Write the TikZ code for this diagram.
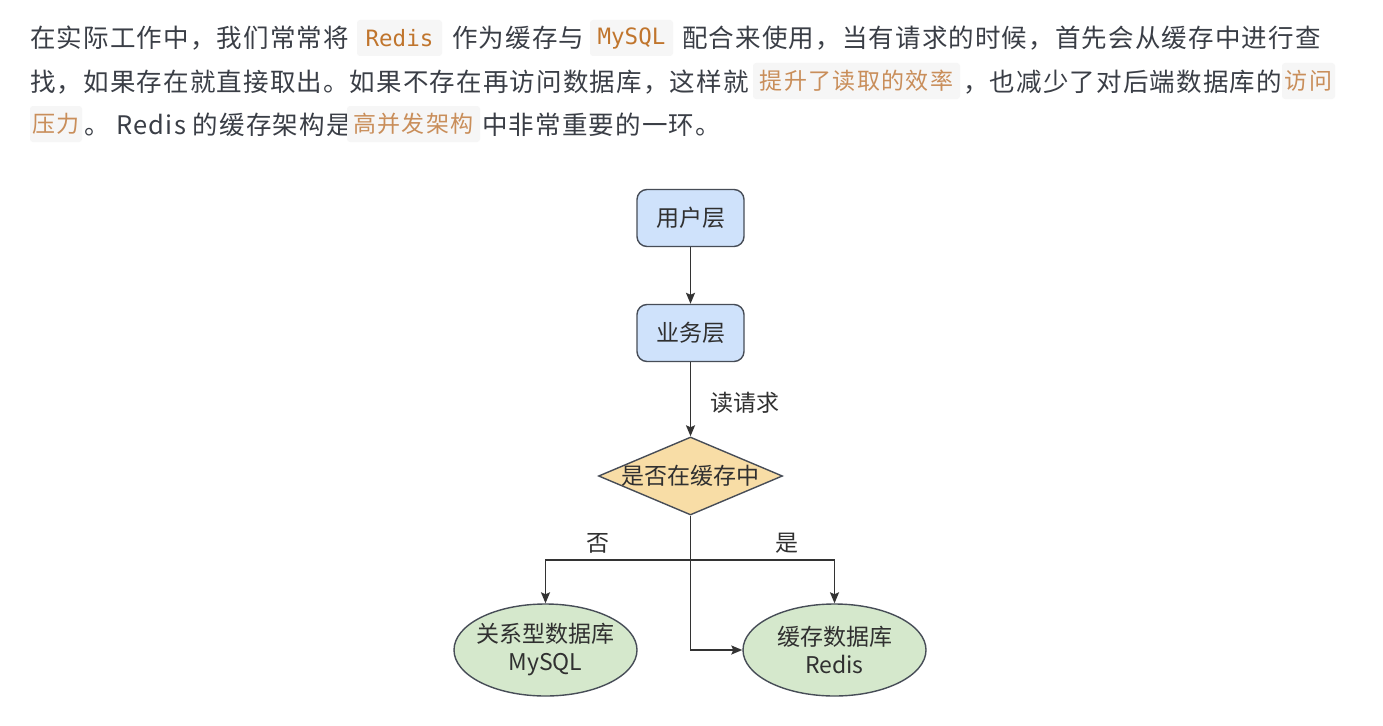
\documentclass[tikz,border=0pt]{standalone}
\usepackage{fontspec}
\setmainfont{Noto Sans CJK SC}
\newfontfamily\bodyf[LetterSpace=4.5]{Noto Sans CJK SC}
\newfontfamily\hlf[LetterSpace=6]{Noto Sans CJK SC}
\newfontfamily\codef{DejaVu Sans Mono}
\newfontfamily\diagf{Noto Sans CJK SC}
\usetikzlibrary{shapes.geometric,arrows.meta}
\definecolor{bodyc}{HTML}{3A3E46}
\definecolor{hlbg}{HTML}{F6F6F6}
\definecolor{hlc}{HTML}{C98E5A}
\definecolor{codec}{HTML}{C0752D}
\definecolor{bluef}{HTML}{CFE2FB}
\definecolor{orf}{HTML}{F8DDA6}
\definecolor{grf}{HTML}{D5E8CC}
\definecolor{bordc}{HTML}{474D57}
\definecolor{lnc}{HTML}{333333}
\definecolor{dtxt}{HTML}{303030}
\begin{document}
\begin{tikzpicture}[x=1pt,y=-1pt,
  txt/.style={anchor=base west, inner sep=0pt, text=bodyc, font=\bodyf\fontsize{25.5}{28}\selectfont},
  hl/.style={fill=hlbg, rounded corners=3pt, inner sep=0pt, text=hlc, font=\hlf\fontsize{23}{26}\selectfont, minimum height=36pt},
  code/.style={hl, text=codec, font=\codef\fontsize{22.5}{26}\selectfont},
  dnode/.style={draw=bordc, line width=1.4pt, text=dtxt, font=\diagf\fontsize{23}{28}\selectfont, align=center},
  layerbox/.style={dnode, fill=bluef, rounded corners=10pt, minimum width=107pt, minimum height=57pt},
  decide/.style={dnode, diamond, fill=orf, aspect=2.36, inner xsep=-5pt, inner ysep=-3pt, minimum width=184pt, minimum height=78pt},
  dbnode/.style={dnode, ellipse, fill=grf, inner xsep=-6pt, inner ysep=0pt, minimum width=183pt, minimum height=92pt},
  conn/.style={draw=lnc, line width=1.6pt},
  arr/.style={conn, -{Stealth[length=11pt,width=9pt,inset=2pt]}},
  lbl/.style={text=dtxt, font=\diagf\fontsize{23}{28}\selectfont, inner sep=0pt}
]
\useasboundingbox[fill=white] (0,0) rectangle (1383,725);

% paragraph, line 1
\node[txt] (t1a) at (30,48) {在实际工作中，我们常常将};
\node[code, minimum width=85pt] (c1) at (399.5,38) {Redis};
\node[txt] (t1b) at (452,48) {作为缓存与};
\node[code, minimum width=83pt] (c2) at (631.5,38) {MySQL};
\node[txt] (t1c) at (682,48) {配合来使用，当有请求的时候，首先会从缓存中进行查};
% line 2
\node[txt] (t2a) at (30,91) {找，如果存在就直接取出。如果不存在再访问数据库，这样就};
\node[hl, minimum width=207pt] (h1) at (856.5,81) {提升了读取的效率};
\node[txt] (t2b) at (963,91) {，也减少了对后端数据库的};
\node[hl, minimum width=53pt] (h2) at (1308.5,81) {访问};
% line 3
\node[hl, minimum width=52pt] (h3) at (56,124) {压力};
\node[txt] (t3a) at (84,134) {。 Redis 的缓存架构是};
\node[hl, minimum width=133pt] (h4) at (413.5,124) {高并发架构};
\node[txt] (t3b) at (482,134) {中非常重要的一环。};

% diagram
\node[layerbox] (u) at (690.5,218) {用户层};
\node[layerbox] (b) at (690.5,333) {业务层};
\node[decide] (d) at (690.5,476) {是否在缓存中};
\node[dbnode] (m) at (545.5,650) {关系型数据库\\MySQL};
\node[dbnode] (r) at (834.5,650) {缓存数据库\\Redis};
\coordinate (j) at (690.5,560);

\draw[arr] (u) -- (b);
\draw[arr] (b) -- node[lbl, pos=0.55, anchor=west, xshift=19pt] (rq) {读请求} (d);
\draw[conn] (d.south) -- (j);
\draw[arr] (j) -| node[lbl, pos=0.32, above=6pt] (no) {否} (m.north);
\draw[arr] (j) -| node[lbl, pos=0.336, above=6pt] (yes) {是} (r.north);
\draw[arr] (d.south) |- (r.west);
\end{tikzpicture}
\end{document}
